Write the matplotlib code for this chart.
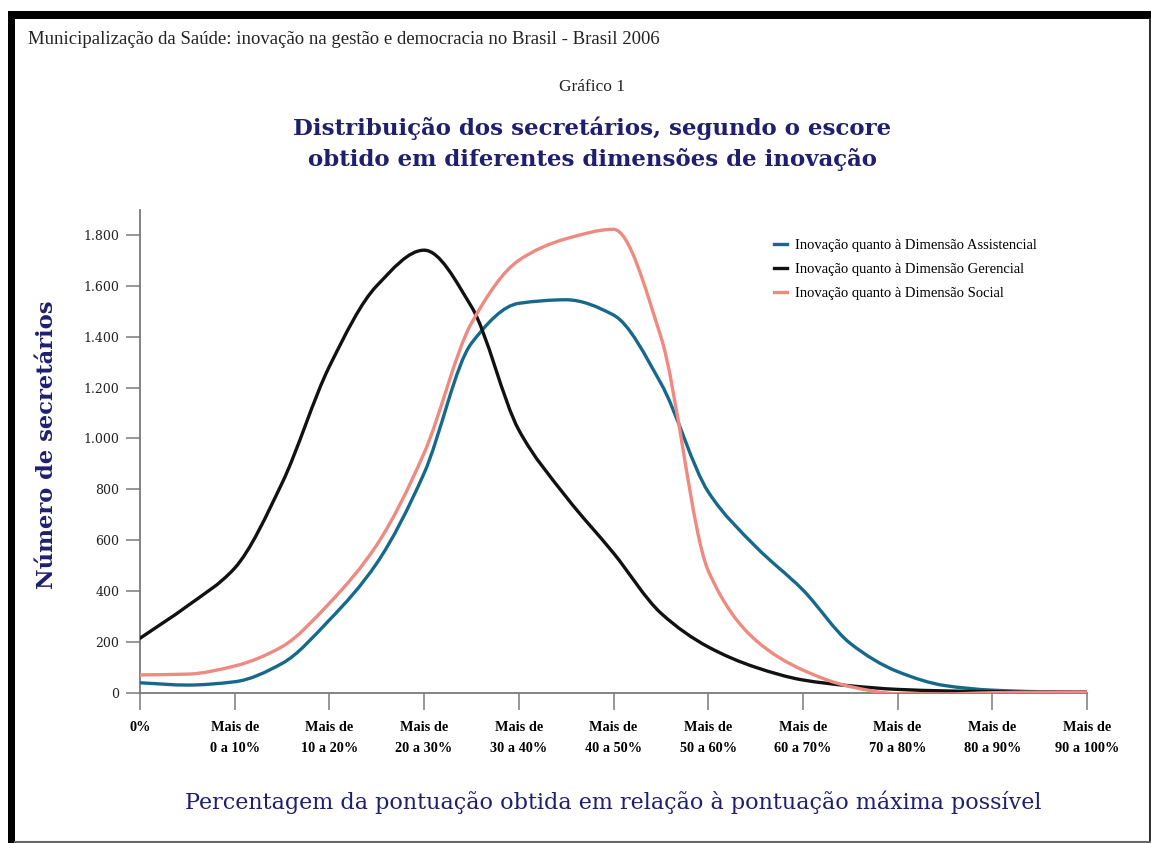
import numpy as np
import matplotlib
matplotlib.use("Agg")
import matplotlib.pyplot as plt
from matplotlib.path import Path
from matplotlib.patches import PathPatch, Rectangle
from matplotlib.lines import Line2D
from matplotlib.ticker import FuncFormatter

# --- dados (meia-faixa entre categorias) ---
categorias = ["0%", "Mais de\n0 a 10%", "Mais de\n10 a 20%", "Mais de\n20 a 30%",
              "Mais de\n30 a 40%", "Mais de\n40 a 50%", "Mais de\n50 a 60%",
              "Mais de\n60 a 70%", "Mais de\n70 a 80%", "Mais de\n80 a 90%",
              "Mais de\n90 a 100%"]
posicoes = [i / 2 for i in range(21)]

assistencial = [39, 30, 43, 115, 286, 509, 863, 1374, 1531, 1545, 1485,
                1217, 790, 575, 404, 194, 83, 28, 10, 4, 3]
gerencial = [214, 341, 490, 824, 1283, 1600, 1740, 1518, 1033, 770, 549,
             313, 180, 100, 50, 27, 13, 7, 4, 3, 3]
social = [70, 73, 105, 181, 352, 581, 942, 1453, 1700, 1785, 1822,
          1400, 480, 207, 89, 24, -4, -5, 0, 2, 3]

series = [
    ("Inovação quanto à Dimensão Assistencial", assistencial, "#17698c"),
    ("Inovação quanto à Dimensão Gerencial", gerencial, "#111111"),
    ("Inovação quanto à Dimensão Social", social, "#ee8a80"),
]

NAVY = "#1f1f6e"
W, H = 1151, 843


def curva_suave(xs, ys):
    """Path Bezier com tangentes monótonas (Fritsch-Carlson) passando pelos pontos."""
    x = np.asarray(xs, float)
    y = np.asarray(ys, float)
    h = np.diff(x)
    d = np.diff(y) / h
    m = np.zeros_like(y)
    m[0], m[-1] = d[0], d[-1]
    for i in range(1, len(y) - 1):
        if d[i - 1] * d[i] > 0:
            m[i] = 2 / (1 / d[i - 1] + 1 / d[i])
    verts = [(x[0], y[0])]
    codes = [Path.MOVETO]
    for i in range(len(x) - 1):
        verts += [(x[i] + h[i] / 3, y[i] + m[i] * h[i] / 3),
                  (x[i + 1] - h[i] / 3, y[i + 1] - m[i + 1] * h[i] / 3),
                  (x[i + 1], y[i + 1])]
        codes += [Path.CURVE4] * 3
    return Path(verts, codes)


def px(x, y):
    """pixel (origem no topo) -> fração da figura"""
    return x / W, 1 - y / H


fig = plt.figure(figsize=(W / 100, H / 100), dpi=100)
fig.patch.set_facecolor("white")

l, b = px(140, 692.7)
r, t = px(1087, 210)
ax = fig.add_axes([l, b, r - l, t - b])

for nome, valores, cor in series:
    ax.add_patch(PathPatch(curva_suave(posicoes, valores), fc="none", ec=cor,
                           lw=2.4, capstyle="round", joinstyle="round", zorder=3))

ax.set_xlim(0, 10)
ax.set_ylim(0, 1898)
ax.set_xticks(range(11))
ax.set_xticklabels(categorias, fontfamily="Liberation Serif", fontweight="bold",
                   fontsize=10.3, linespacing=1.75)
ax.set_yticks(range(0, 1801, 200))
ax.yaxis.set_major_formatter(FuncFormatter(lambda v, p: f"{v:,.0f}".replace(",", ".")))
for lab in ax.get_yticklabels():
    lab.set_fontfamily("DejaVu Serif")
    lab.set_fontsize(9)
    lab.set_color("#222222")

ax.spines["top"].set_visible(False)
ax.spines["right"].set_visible(False)
for s in ("left", "bottom"):
    ax.spines[s].set_color("#7a7a7a")
    ax.spines[s].set_linewidth(1.3)
    ax.spines[s].set_zorder(1)
ax.tick_params(axis="x", direction="out", length=12.5, width=1.1, color="#7a7a7a", pad=8)
ax.tick_params(axis="y", direction="out", length=10, width=1.1, color="#7a7a7a", pad=5)
ax.patch.set_alpha(0)

# legenda
handles = [Line2D([], [], color=c, lw=2.4) for _, _, c in series]
leg = ax.legend(handles, [n for n, _, _ in series], loc="upper left",
                bbox_to_anchor=px(761, 226), bbox_transform=fig.transFigure,
                frameon=False, handlelength=0.85, handletextpad=0.55, labelspacing=0.72,
                prop={"family": "Liberation Serif", "size": 10.5})

# textos
fig.text(*px(28, 40), "Municipalização da Saúde: inovação na gestão e democracia no Brasil - Brasil 2006",
         fontfamily="Liberation Serif", fontsize=13.5, va="center", ha="left", color="#222222")
fig.text(*px(592, 87), "Gráfico 1", fontfamily="Liberation Serif", fontsize=12.5,
         va="center", ha="center", color="#222222")
fig.text(*px(592, 144), "Distribuição dos secretários, segundo o escore\nobtido em diferentes dimensões de inovação",
         fontfamily="DejaVu Serif", fontweight="bold", fontsize=16.5, va="center", ha="center",
         color=NAVY, linespacing=1.45)
fig.text(*px(47, 445), "Número de secretários", fontfamily="DejaVu Serif", fontweight="bold",
         fontsize=16.3, rotation=90, va="center", ha="center", color=NAVY)
fig.text(*px(613, 802), "Percentagem da pontuação obtida em relação à pontuação máxima possível",
         fontfamily="DejaVu Serif", fontsize=16, va="center", ha="center", color=NAVY)

# moldura da imagem original
fig.add_artist(Rectangle(px(8, 843), 7 / W, (843 - 11) / H, transform=fig.transFigure,
                         fc="black", ec="none"))
fig.add_artist(Rectangle(px(8, 19), (W - 8) / W, 8 / H, transform=fig.transFigure,
                         fc="black", ec="none"))
fig.add_artist(Line2D([1149.5 / W] * 2, [px(0, 19)[1], 0], transform=fig.transFigure,
                      color="#333333", lw=1.5))
fig.add_artist(Line2D([15 / W, 1150 / W], [px(0, 842)[1]] * 2, transform=fig.transFigure,
                      color="#666666", lw=1.5))

plt.savefig("out.png", dpi=100)
plt.close()
